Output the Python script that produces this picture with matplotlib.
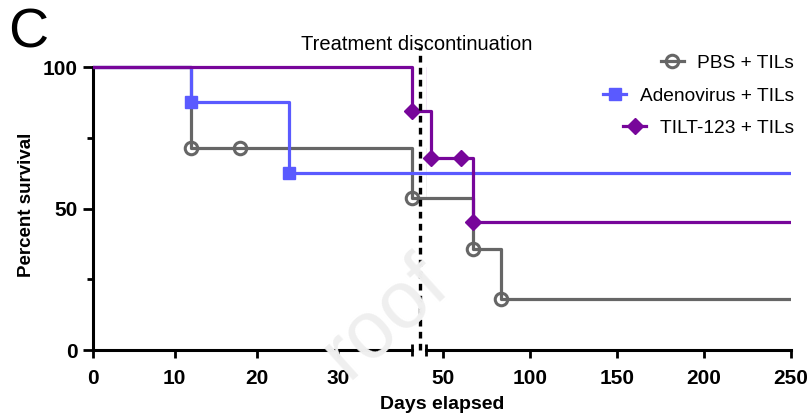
import matplotlib.pyplot as plt
from matplotlib.lines import Line2D
from matplotlib.transforms import Bbox, TransformedBbox

plt.rcParams['font.family'] = ['Liberation Sans', 'DejaVu Sans']

# Kaplan-Meier step data (days, percent survival)
pbs_days = [0, 12, 39, 67, 83, 250]
pbs_surv = [100, 71.4, 53.6, 35.7, 17.9, 17.9]
pbs_mark_days = [12, 18, 39, 67, 83]
pbs_mark_surv = [71.4, 71.4, 53.6, 35.7, 17.9]

adeno_days = [0, 12, 24, 250]
adeno_surv = [100, 87.5, 62.5, 62.5]
adeno_mark_days = [12, 24]
adeno_mark_surv = [87.5, 62.5]

tilt_days = [0, 39, 43, 67, 250]
tilt_surv = [100, 84.6, 67.7, 45.1, 45.1]
tilt_mark_days = [39, 43, 60, 67]
tilt_mark_surv = [84.6, 67.7, 67.7, 45.1]

labels = ['PBS + TILs', 'Adenovirus + TILs', 'TILT-123 + TILs']
colors = ['#666666', '#5a5aff', '#77069a']
markers = ['o', 's', 'D']

left_range = (0, 39)
right_range = (40, 250)
left_ticks = [0, 10, 20, 30]
right_ticks = [50, 100, 150, 200, 250]
stop_day = 40

W, H = 811, 415
fig = plt.figure(figsize=(W / 100, H / 100), dpi=100)

y_bot = 1 - 350 / H
y_top_px = 350 - 108 * 2.83
ax_h = (350 - y_top_px) / H
ax1 = fig.add_axes([93 / W, y_bot, (412 - 93) / W, ax_h])
ax2 = fig.add_axes([426 / W, y_bot, (791 - 426) / W, ax_h])

# watermark
fig.text(385 / W, 1 - 318 / H, 'roof', rotation=42, fontsize=58, color='#efefef',
         ha='center', va='center', zorder=0)

series = [
    (pbs_days, pbs_surv, pbs_mark_days, pbs_mark_surv),
    (adeno_days, adeno_surv, adeno_mark_days, adeno_mark_surv),
    (tilt_days, tilt_surv, tilt_mark_days, tilt_mark_surv),
]
msizes = [9, 8.5, 8.5]

# left-panel lines run on across the axis break
gap_clip = TransformedBbox(Bbox([[93 / W, 0], [426 / W, 1]]), fig.transFigure)

for ax, (lo, hi) in ((ax1, left_range), (ax2, right_range)):
    ax.patch.set_alpha(0)
    for (d, s, md, ms), c, m, sz in zip(series, colors, markers, msizes):
        ln, = ax.step(d, s, where='post', color=c, lw=2.3, zorder=3)
        if ax is ax1:
            ln.set_clip_box(gap_clip)
        px = [x for x in md if lo <= x <= hi]
        py = [y for x, y in zip(md, ms) if lo <= x <= hi]
        if m == 'o':
            ax.plot(px, py, ls='none', marker=m, ms=sz, mfc='none', mec=c, mew=2.2,
                    zorder=4, clip_on=False)
        else:
            ax.plot(px, py, ls='none', marker=m, ms=sz, color=c, zorder=4, clip_on=False)
    ax.set_xlim(lo, hi)
    ax.set_ylim(0, 108)
    for sp in ('top', 'right'):
        ax.spines[sp].set_visible(False)
    ax.spines['bottom'].set_linewidth(2.2)
    ax.tick_params(axis='x', direction='out', length=6, width=2, pad=8)

ax1.set_xticks(left_ticks)
ax2.set_xticks(right_ticks)
for ax in (ax1, ax2):
    for lab in ax.get_xticklabels():
        lab.set_fontweight('bold')
        lab.set_fontsize(15)

ax1.spines['left'].set_linewidth(2.2)
ax1.spines['left'].set_bounds(0, 100)
ax1.set_yticks([0, 50, 100])
ax1.set_yticks([25, 75], minor=True)
ax1.tick_params(axis='y', which='major', direction='out', length=7, width=2, labelsize=15, pad=4)
ax1.tick_params(axis='y', which='minor', direction='out', length=4.5, width=2)
for lab in ax1.get_yticklabels():
    lab.set_fontweight('bold')

ax2.spines['left'].set_visible(False)
ax2.set_yticks([])

# break marks on the x axis
ax1.plot([1], [0], transform=ax1.transAxes, marker='|', ms=9, mew=2, color='k', clip_on=False)
ax2.plot([0], [0], transform=ax2.transAxes, marker='|', ms=9, mew=2, color='k', clip_on=False)

# treatment discontinuation line
ax1.plot([stop_day, stop_day], [0, 107], ls=(0, (2, 1.6)), color='k', lw=2.4,
         clip_on=False, zorder=5)
fig.text(417 / W, 1 - 45 / H, 'Treatment discontinuation', fontsize=14.5,
         ha='center', va='center')

fig.text(27 / W, 1 - 205 / H, 'Percent survival', rotation=90, fontsize=13.5,
         fontweight='bold', ha='center', va='center')
fig.text(442 / W, 1 - 404 / H, 'Days elapsed', fontsize=14, fontweight='bold',
         ha='center', va='center')
fig.text(28 / W, 1 - 33 / H, 'C', fontsize=40, ha='center', va='center')

# legend: one entry per legend so text is right aligned
leg_y = [63, 96, 128]
for lab, c, m, yy in zip(labels, colors, markers, leg_y):
    if m == 'o':
        h = Line2D([], [], color=c, lw=2.3, marker=m, ms=9, mfc='none', mec=c, mew=2.2)
    else:
        h = Line2D([], [], color=c, lw=2.3, marker=m, ms=8.5)
    fig.legend(handles=[h], labels=[lab], loc='center right', frameon=False,
               bbox_to_anchor=(794 / W, 1 - yy / H), bbox_transform=fig.transFigure,
               fontsize=13.8, handlelength=1.2, handletextpad=0.7, borderpad=0,
               borderaxespad=0)

fig.savefig('out.png', dpi=100)
